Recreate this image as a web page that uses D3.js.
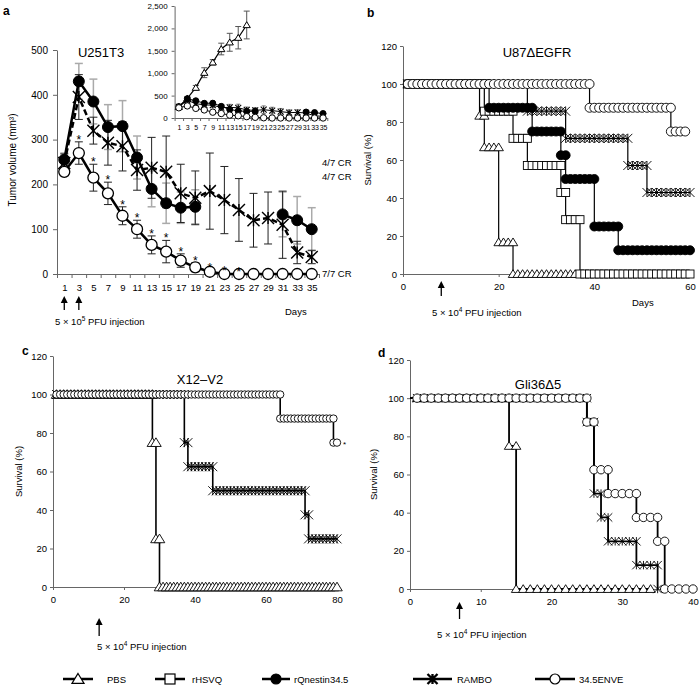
<!DOCTYPE html>
<html>
<head>
<meta charset="utf-8">
<script src="https://cdn.jsdelivr.net/npm/d3@7"></script>
<style>
body { margin: 0; background: #fff; }
text { font-family: "Liberation Sans", Arial, sans-serif; }
</style>
</head>
<body>
<div id="fig"></div>
<script>
// ---- panel a : tumour volume ----
var aDays = [1, 3, 5, 7, 9, 11, 13, 15, 17, 19, 21, 23, 25, 27, 29, 31, 33, 35];
var aEnve = [228, 270, 215, 180, 130, 100, 65, 50, 30, 15, 5, 0, 0, 0, 0, 0, 0, 0];
var aEnveErr = [8, 25, 30, 25, 20, 20, 20, 25, 15, 10, 5, 2, 0, 0, 0, 0, 0, 0];
var aQnes = [255, 430, 385, 328, 330, 260, 190, 158, 148, 150, null, null, null, null, null, 133, 120, 100];
var aQnesErr = [15, 40, 50, 50, 57, 48, 40, 45, 35, 38, null, null, null, null, null, 50, 53, 48];
var aRambo = [248, 395, 320, 293, 285, 232, 237, 228, 180, 170, 185, 165, 143, 120, 125, 110, 48, 38];
var aRamboErr = [20, 50, 30, 50, 55, 45, 68, 80, 65, 60, 85, 75, 70, 60, 58, 75, 25, 15];
var aSigDays = [3, 5, 7, 9, 11, 13, 15, 17, 19, 21, 23, 25];
var aInjDays = [1, 3];
var aYTicks = [0, 100, 200, 300, 400, 500];

// inset (PBS shown only here)
var insetPbsDays = [1, 3, 5, 7, 9, 11, 13, 15, 17];
var insetPbs = [250, 440, 677, 1011, 1243, 1540, 1690, 1792, 2076];
var insetPbsErr = [30, 40, 50, 110, 60, 130, 200, 250, 310];
var insetYTicks = [0, 500, 1000, 1500, 2000, 2500];

// ---- survival panels: [day, survival %] steps, last pair = end of follow-up ----
var bPbs = [[0, 100], [16, 83.3], [17, 66.7], [20, 16.7], [23, 0], [36, 0]];
var bHsvq = [[0, 100], [17, 85.7], [23, 71.4], [26, 57.1], [33, 42.9], [34, 28.6], [37, 0], [60, 0]];
var bQnes = [[0, 100], [18, 87.5], [27, 75], [33, 62.5], [34, 50], [40, 25], [45, 12.5], [60, 12.5]];
var bRambo = [[0, 100], [26, 85.7], [34, 71.4], [47, 57.1], [51, 42.9], [60, 42.9]];
var bEnve = [[0, 100], [39, 87.5], [56, 75], [59, 75]];
var bInj = 8;

var cPbs = [[0, 100], [28, 75], [29, 25], [30, 0], [80, 0]];
var cRambo = [[0, 100], [37, 75], [38, 62.5], [45, 50], [71, 37.5], [72, 25], [80, 25]];
var cEnve = [[0, 100], [64, 87.5], [79, 75], [80, 75]];
var cInj = 13;

var dPbs = [[0, 100], [14, 75], [15, 0], [34, 0]];
var dRambo = [[0, 100], [25, 87.5], [26, 50], [27, 37.5], [28, 25], [32, 12.5], [35, 0], [35, 0]];
var dEnve = [[0, 100], [25, 87.5], [26, 62.5], [28, 50], [32, 37.5], [35, 25], [36, 0], [40, 0]];
var dInj = 7;

var survTicks = [0, 20, 40, 60, 80, 100, 120];
var legendNames = ["PBS", "rHSVQ", "rQnestin34.5", "RAMBO", "34.5ENVE"];
var legendShapes = ["tri", "sq", "dot", "star", "circ"];

var svg = d3.select("#fig").append("svg")
    .attr("width", 700)
    .attr("height", 687);

var AXIS = "#666";

function marker(g, shape, x, y, s, sw) {
    sw = sw || 1;
    if (shape == "circ" || shape == "dot") {
        g.append("circle").attr("cx", x).attr("cy", y).attr("r", s)
            .style("fill", shape == "dot" ? "#000" : "#fff")
            .style("stroke", "#000").style("stroke-width", sw);
    } else if (shape == "tri") {
        g.append("path")
            .attr("d", "M" + x + "," + (y - s) + "L" + (x + s * 1.1) + "," + (y + s * 0.8) + "L" + (x - s * 1.1) + "," + (y + s * 0.8) + "Z")
            .style("fill", "#fff").style("stroke", "#000").style("stroke-width", sw);
    } else if (shape == "sq") {
        g.append("rect").attr("x", x - s).attr("y", y - s).attr("width", 2 * s).attr("height", 2 * s)
            .style("fill", "#fff").style("stroke", "#000").style("stroke-width", sw);
    } else if (shape == "star") {
        g.append("path")
            .attr("d", "M" + (x - s) + "," + (y - s) + "L" + (x + s) + "," + (y + s) +
                "M" + (x - s) + "," + (y + s) + "L" + (x + s) + "," + (y - s) +
                "M" + x + "," + (y - s) + "L" + x + "," + (y + s))
            .style("fill", "none").style("stroke", "#000").style("stroke-width", sw * 1.3);
    }
}

function styleAxis(g, fs) {
    g.select(".domain").style("stroke", AXIS);
    g.selectAll(".tick line").style("stroke", AXIS);
    g.selectAll("text").style("font-size", fs + "px").style("fill", "#000")
        .style("font-family", '"Liberation Sans", Arial, sans-serif');
}

function arrow(g, x, y1, y2) {
    g.append("line").attr("x1", x).attr("x2", x).attr("y1", y1 + 5).attr("y2", y2)
        .style("stroke", "#000").style("stroke-width", 1.3);
    g.append("path").attr("d", "M" + x + "," + y1 + "L" + (x + 3.5) + "," + (y1 + 7) + "L" + (x - 3.5) + "," + (y1 + 7) + "Z")
        .style("fill", "#000");
}

function injText(g, x, y, exp) {
    var t = g.append("text").attr("x", x).attr("y", y).style("font-size", "9.5px");
    t.append("tspan").text("5 \u00d7 10");
    t.append("tspan").attr("dy", -4).style("font-size", "6.5px").text(exp);
    t.append("tspan").attr("dy", 4).text(" PFU injection");
}

function panelLabel(x, y, s) {
    svg.append("text").attr("x", x).attr("y", y).text(s)
        .style("font-size", "12px").style("font-weight", "bold");
}

// ================= panel a =================
var ax = d3.scaleLinear().domain([0, 36]).range([57, 319]);
var ay = d3.scaleLinear().domain([0, 500]).range([274, 50]);
var ga = svg.append("g");

ga.append("g").attr("transform", "translate(0,274)")
    .call(d3.axisBottom(ax).tickValues(d3.range(0, 37, 2)).tickFormat("").tickSize(4).tickSizeOuter(0))
    .call(styleAxis, 10);
ga.append("g").attr("transform", "translate(0,274)")
    .call(d3.axisBottom(ax).tickValues(aDays).tickSize(0).tickPadding(10).tickFormat(d3.format("d")))
    .call(function (g) { g.select(".domain").remove(); })
    .call(styleAxis, 9.5);
ga.append("g").attr("transform", "translate(" + ax(0) + ",0)")
    .call(d3.axisLeft(ay).tickValues(aYTicks).tickSize(4).tickPadding(5).tickSizeOuter(0))
    .call(styleAxis, 10);

function drawErr(g, days, vals, errs, xs, ys, color, w, cap) {
    days.forEach(function (d, i) {
        if (vals[i] == null || !errs[i]) return;
        var x = xs(d), y1 = ys(vals[i] + errs[i]), y2 = ys(Math.max(0, vals[i] - errs[i]));
        g.append("line").attr("x1", x).attr("x2", x).attr("y1", y1).attr("y2", y2)
            .style("stroke", color).style("stroke-width", w);
        [y1, y2].forEach(function (yy) {
            g.append("line").attr("x1", x - cap).attr("x2", x + cap).attr("y1", yy).attr("y2", yy)
                .style("stroke", color).style("stroke-width", w);
        });
    });
}
drawErr(ga, aDays, aQnes, aQnesErr, ax, ay, "#aaa", 1.5, 4);
drawErr(ga, aDays, aRambo, aRamboErr, ax, ay, "#222", 1, 4);
drawErr(ga, aDays, aEnve, aEnveErr, ax, ay, "#222", 1, 4);

function seriesLine(g, days, vals, xs, ys, w, dash) {
    var line = d3.line().defined(function (d) { return d[1] != null; })
        .x(function (d) { return xs(d[0]); }).y(function (d) { return ys(d[1]); });
    g.append("path").datum(days.map(function (d, i) { return [d, vals[i]]; }))
        .attr("d", line).style("fill", "none").style("stroke", "#000")
        .style("stroke-width", w).style("stroke-dasharray", dash || null);
}
seriesLine(ga, aDays, aQnes, ax, ay, 2.5);
seriesLine(ga, aDays, aRambo, ax, ay, 2.5, "6,3");
seriesLine(ga, aDays, aEnve, ax, ay, 2.5);
aDays.forEach(function (d, i) { if (aQnes[i] != null) marker(ga, "dot", ax(d), ay(aQnes[i]), 5.5); });
aDays.forEach(function (d, i) { marker(ga, "star", ax(d), ay(aRambo[i]), 6, 1.1); });
aDays.forEach(function (d, i) { marker(ga, "circ", ax(d), ay(aEnve[i]), 5.5, 1.3); });

aSigDays.forEach(function (d) {
    var i = aDays.indexOf(d);
    ga.append("text").attr("x", ax(d)).attr("y", ay(aEnve[i] + aEnveErr[i]) + 2)
        .attr("text-anchor", "middle").text("*").style("font-size", "12px");
});

ga.append("text").attr("x", 101).attr("y", 57).attr("text-anchor", "middle")
    .text("U251T3").style("font-size", "13px");
ga.append("text").attr("transform", "translate(16,160) rotate(-90)").attr("text-anchor", "middle")
    .text("Tumor volume (mm\u00b3)").style("font-size", "10px");
ga.append("text").attr("x", 322).attr("y", 166).text("4/7 CR").style("font-size", "9.5px");
ga.append("text").attr("x", 322).attr("y", 180).text("4/7 CR").style("font-size", "9.5px");
ga.append("text").attr("x", 322).attr("y", 277).text("7/7 CR").style("font-size", "9.5px");
ga.append("text").attr("x", 285).attr("y", 315).text("Days").style("font-size", "9.5px");
aInjDays.forEach(function (d) { arrow(ga, ax(d), 296, 310); });
injText(ga, 55, 325, "5");

// inset
var ix = d3.scaleLinear().domain([0, 36]).range([174.6, 327.3]);
var iy = d3.scaleLinear().domain([0, 2500]).range([118, 6]);
var gi = svg.append("g");
gi.append("g").attr("transform", "translate(0,118)")
    .call(d3.axisBottom(ix).tickValues(d3.range(0, 37, 2)).tickFormat("").tickSize(3).tickSizeOuter(0))
    .call(styleAxis, 7);
gi.append("g").attr("transform", "translate(0,118)")
    .call(d3.axisBottom(ix).tickValues(aDays).tickSize(0).tickPadding(7).tickFormat(d3.format("d")))
    .call(function (g) { g.select(".domain").remove(); })
    .call(styleAxis, 7);
gi.append("g").attr("transform", "translate(" + ix(0) + ",0)")
    .call(d3.axisLeft(iy).tickValues(insetYTicks).tickSize(3).tickPadding(4).tickSizeOuter(0).tickFormat(d3.format(",")))
    .call(styleAxis, 8);
drawErr(gi, insetPbsDays, insetPbs, insetPbsErr, ix, iy, "#555", 1, 3);
drawErr(gi, aDays, aQnes, aQnesErr, ix, iy, "#555", 0.8, 2);
drawErr(gi, aDays, aRambo, aRamboErr, ix, iy, "#555", 0.8, 2);
seriesLine(gi, insetPbsDays, insetPbs, ix, iy, 1.2);
seriesLine(gi, aDays, aQnes, ix, iy, 1);
seriesLine(gi, aDays, aRambo, ix, iy, 1);
seriesLine(gi, aDays, aEnve, ix, iy, 1);
insetPbsDays.forEach(function (d, i) { marker(gi, "tri", ix(d), iy(insetPbs[i]), 3.3); });
aDays.forEach(function (d, i) { if (aQnes[i] != null) marker(gi, "dot", ix(d), iy(aQnes[i]), 3); });
aDays.forEach(function (d, i) { marker(gi, "star", ix(d), iy(aRambo[i]), 3, 0.8); });
aDays.forEach(function (d, i) { marker(gi, "circ", ix(d), iy(aEnve[i]), 3.2); });

// ================= survival panels =================
function survival(p) {
    var g = svg.append("g");
    var xs = d3.scaleLinear().domain([0, p.xmax]).range(p.xr);
    var ys = d3.scaleLinear().domain([0, 120]).range(p.yr);
    g.append("g").attr("transform", "translate(0," + p.yr[0] + ")")
        .call(d3.axisBottom(xs).tickValues(p.xticks).tickSize(3).tickPadding(6).tickSizeOuter(0))
        .call(styleAxis, 9.5);
    g.append("g").attr("transform", "translate(" + p.xr[0] + ",0)")
        .call(d3.axisLeft(ys).tickValues(survTicks).tickSize(3).tickPadding(3).tickSizeOuter(0))
        .call(styleAxis, 9.5);
    var step = d3.line().curve(d3.curveStepAfter)
        .x(function (d) { return xs(d[0]); }).y(function (d) { return ys(d[1]); });
    p.series.forEach(function (s) {
        g.append("path").datum(s.steps).attr("d", step)
            .style("fill", "none").style("stroke", "#000").style("stroke-width", p.lw);
    });
    p.series.forEach(function (s) {
        var st = s.steps;
        for (var i = 0; i < st.length - 1; i++) {
            for (var d = Math.max(1, Math.ceil(st[i][0])); d <= st[i + 1][0]; d++) {
                marker(g, s.shape, xs(d), ys(st[i][1]), p.ms[s.shape], s.shape == "star" ? 0.7 : 0.9);
            }
        }
    });
    g.append("text").attr("x", p.title[1]).attr("y", p.title[2]).attr("text-anchor", "middle")
        .text(p.title[0]).style("font-size", "13px");
    g.append("text").attr("transform", "translate(" + p.ylab + "," + (p.yr[0] + p.yr[1]) / 2 + ") rotate(-90)")
        .attr("text-anchor", "middle").text("Survival (%)").style("font-size", "9.5px");
    arrow(g, xs(p.inj), p.arrow[0], p.arrow[1]);
    injText(g, p.txt[0], p.txt[1], "4");
    return { g: g, xs: xs, ys: ys };
}

var sb = survival({
    xmax: 60, xr: [403, 690], yr: [274, 46], xticks: [0, 20, 40, 60], lw: 1.2,
    ms: { tri: 4.3, sq: 4, dot: 4.5, star: 4.5, circ: 4.5 },
    series: [{ shape: "tri", steps: bPbs }, { shape: "sq", steps: bHsvq }, { shape: "dot", steps: bQnes },
        { shape: "star", steps: bRambo }, { shape: "circ", steps: bEnve }],
    title: ["U87\u0394EGFR", 537, 57], ylab: 371, inj: bInj, arrow: [281, 296], txt: [432, 316]
});
sb.g.append("text").attr("x", 632).attr("y", 306).text("Days").style("font-size", "9.5px");

var sc = survival({
    xmax: 80, xr: [53, 337], yr: [587, 356], xticks: [0, 20, 40, 60, 80], lw: 1.6,
    ms: { tri: 4.8, sq: 4, dot: 4, star: 4.5, circ: 3.7 },
    series: [{ shape: "tri", steps: cPbs }, { shape: "star", steps: cRambo }, { shape: "circ", steps: cEnve }],
    title: ["X12\u2013V2", 200, 384], ylab: 22, inj: cInj, arrow: [618, 636], txt: [97, 650]
});
sc.g.append("text").attr("x", sc.xs(80) + 6).attr("y", sc.ys(75) + 4).text("*").style("font-size", "8px");

survival({
    xmax: 40, xr: [410, 693], yr: [589, 360], xticks: [0, 10, 20, 30, 40], lw: 1.8,
    ms: { tri: 4.3, sq: 4, dot: 4, star: 4.2, circ: 4.2 },
    series: [{ shape: "tri", steps: dPbs }, { shape: "star", steps: dRambo }, { shape: "circ", steps: dEnve }],
    title: ["Gli36\u03945", 538, 389], ylab: 377, inj: dInj, arrow: [602, 619], txt: [437, 638]
});

panelLabel(3, 15, "a");
panelLabel(367, 17, "b");
panelLabel(22, 355, "c");
panelLabel(378, 357, "d");

// legend
var legStart = [63, 155, 262, 413, 535];
var legEnd = [93, 185, 290, 452, 575];
var legText = [107, 192, 294, 457, 579];
var gl = svg.append("g");
legendNames.forEach(function (n, i) {
    gl.append("line").attr("x1", legStart[i]).attr("x2", legEnd[i]).attr("y1", 679).attr("y2", 679)
        .style("stroke", "#000").style("stroke-width", 2.5);
    marker(gl, legendShapes[i], (legStart[i] + legEnd[i]) / 2, 679, legendShapes[i] == "tri" ? 5.5 : 5, legendShapes[i] == "star" ? 1.8 : 1.2);
    gl.append("text").attr("x", legText[i]).attr("y", 682.5).text(n).style("font-size", "9.5px");
});
</script>
</body>
</html>
